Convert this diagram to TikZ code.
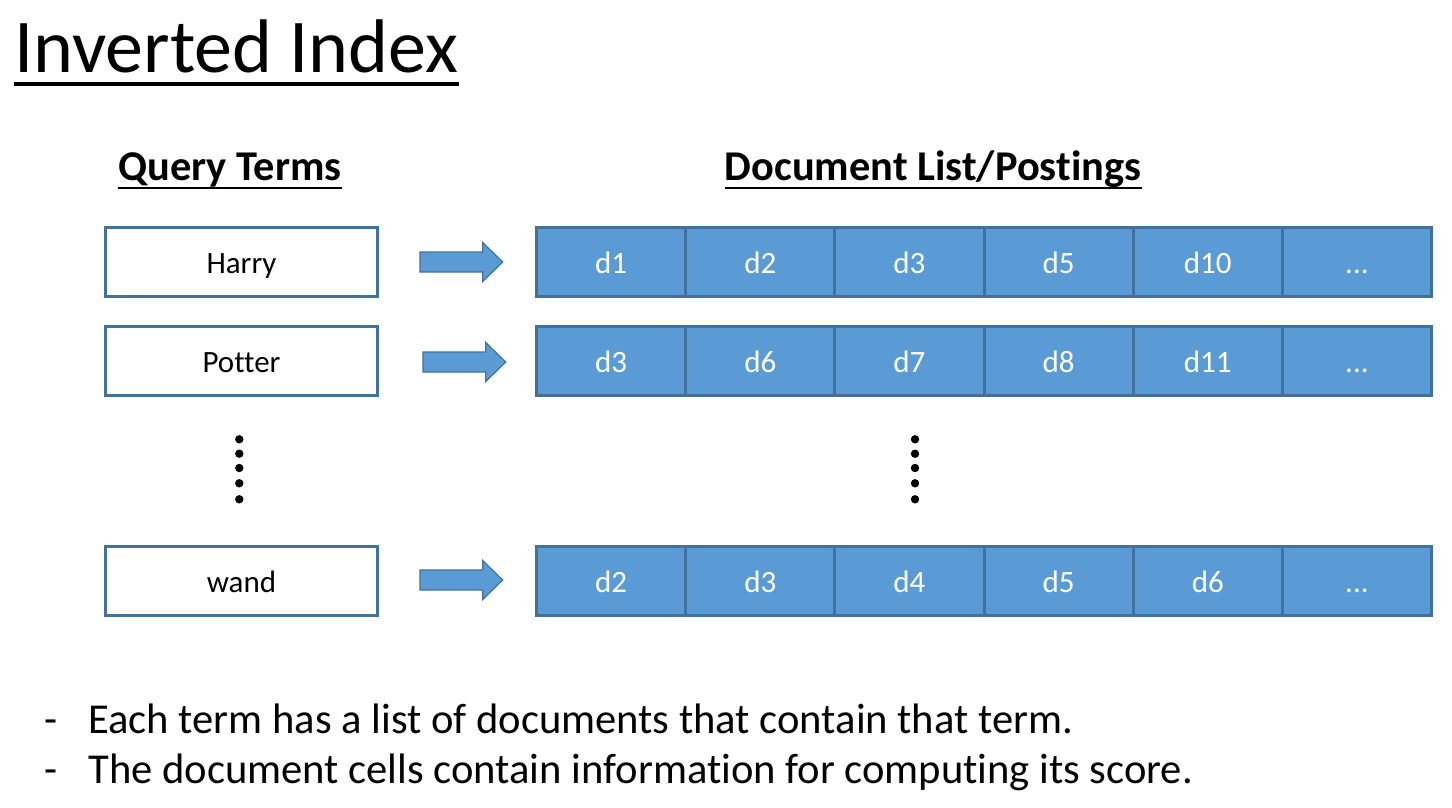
\documentclass[tikz,border=0pt]{standalone}
\usepackage{fontspec}
\setmainfont[Ligatures=NoCommon]{Carlito}
\definecolor{cellfill}{HTML}{5B9BD5}
\definecolor{celldraw}{HTML}{41719C}
\newcommand{\mytdots}{...}
\begin{document}
\begin{tikzpicture}[x=0.5pt,y=-0.5pt,
  qbox/.style={draw=celldraw, line width=1.5pt, fill=white, minimum width=136pt, minimum height=34.5pt, inner sep=0pt, text height=11pt, text depth=0pt, font=\fontsize{15.5}{18}\selectfont},
  cell/.style={draw=celldraw, line width=1.5pt, fill=cellfill, minimum width=74.58pt, minimum height=34.5pt, inner sep=0pt, text height=11pt, text depth=0pt, text=white, font=\fontsize{15.5}{18}\selectfont},
  blockarrow/.style={draw=celldraw, line width=0.6pt, fill=cellfill},
  vdot/.style={fill=black},
  heading/.style={inner sep=0pt, font=\fontsize{21.2}{25}\selectfont\bfseries},
  bullettext/.style={inner sep=0pt, anchor=base west, font=\fontsize{21.3}{25}\selectfont}
]
\useasboundingbox (0,0) rectangle (1452,808);
% title
\node[inner sep=0pt, anchor=base west, font=\fontsize{38}{46}\selectfont] (title) at (14,73) {Inverted Index};
\draw[line width=2pt] ([yshift=-5.5pt]title.base west) -- ([yshift=-5.5pt]title.base east);
% headings
\node[heading, anchor=base west] (qt) at (118,181) {Query Terms};
\draw[line width=1.2pt] ([yshift=-3.4pt]qt.base west) -- ([yshift=-3.4pt]qt.base east);
\node[heading, anchor=base] (dl) at (933,181) {Document List/Postings};
\draw[line width=1.2pt] ([yshift=-3.4pt]dl.base west) -- ([yshift=-3.4pt]dl.base east);
% query boxes
\node[qbox] (harry) at (241.5,262) {Harry};
\node[qbox] (potter) at (241.5,361) {Potter};
\node[qbox] (wand) at (241.5,581) {wand};
% posting rows
\foreach \row/\y/\lst in {r1/262/{d1,d2,d3,d5,d10,\mytdots},r2/361/{d3,d6,d7,d8,d11,\mytdots},r3/581/{d2,d3,d4,d5,d6,\mytdots}}{
  \foreach \t [count=\i from 0] in \lst {
    \node[cell] (\row c\i) at ({536.5+149.17*(\i+0.5)},\y) {\t};
  }
}
% block arrows
\foreach \nm/\x/\y in {a1/420/262,a2/423/362,a3/420/580}{
  \coordinate (\nm) at (\x,\y);
  \draw[blockarrow] (\nm) ++(0,-10) -- ++(62.7,0) -- ++(0,-9.5) -- ++(20,19.5) -- ++(-20,19.5) -- ++(0,-9.5) -- ++(-62.7,0) -- cycle;
}
% vertical dots
\foreach \y [count=\k] in {439.3,453.7,468,483.3,499.3}{
  \fill[vdot] (239.3,\y) circle (4.2) coordinate (ldot\k);
  \fill[vdot] (915,\y) circle (4.2) coordinate (rdot\k);
}
% bullets
\node[bullettext] (b1d) at (44,733) {-};
\node[bullettext] (b1) at (88,733) {Each term has a list of documents that contain that term.};
\node[bullettext] (b2d) at (44,783) {-};
\node[bullettext] (b2) at (88,783) {The document cells contain information for computing its score.};
\end{tikzpicture}
\end{document}
